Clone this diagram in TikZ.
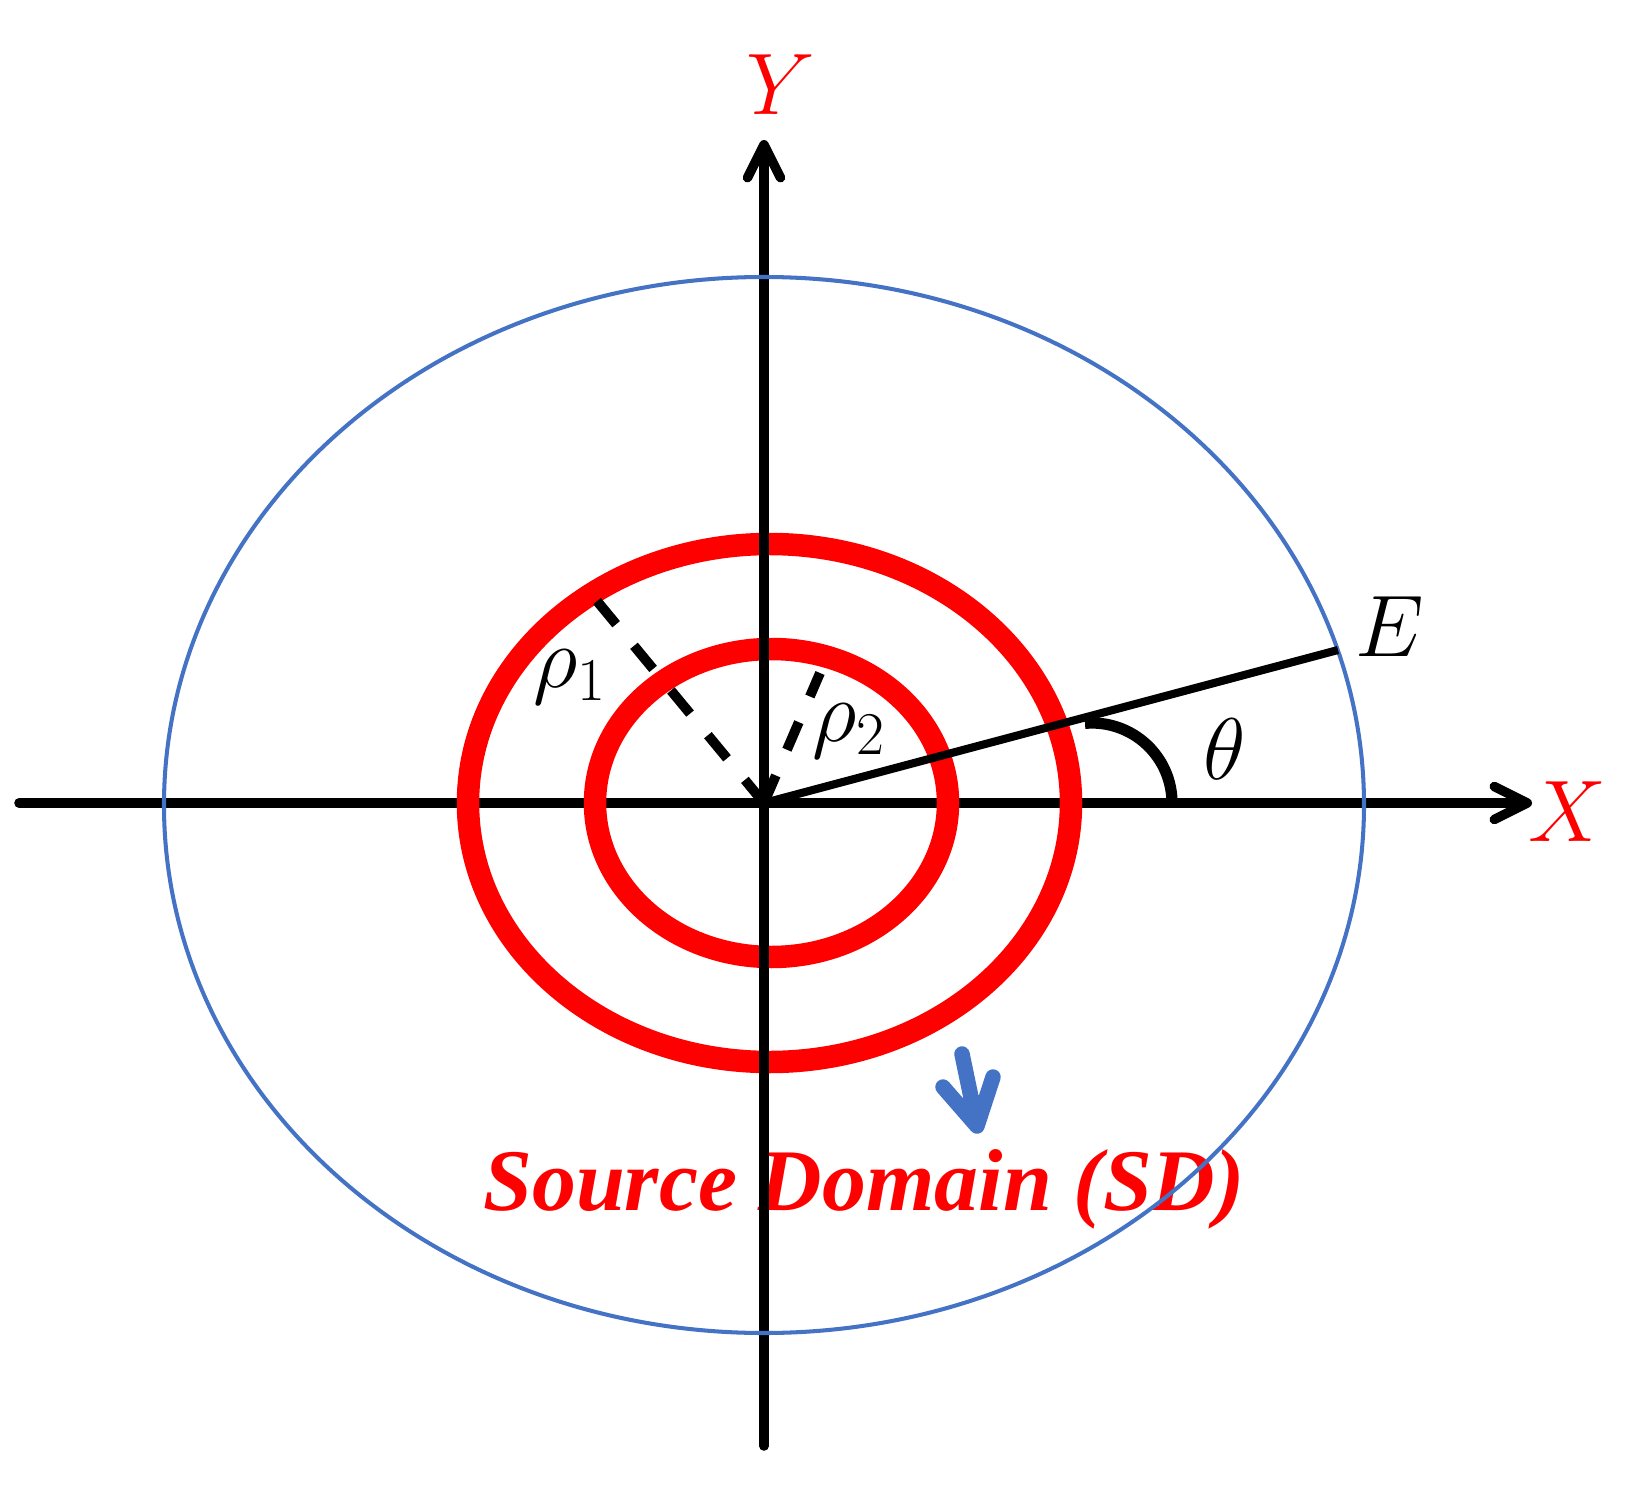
\documentclass[tikz,border=0pt]{standalone}
\usepackage{fontspec}
\newfontfamily\sdfont{Liberation Serif}
\usetikzlibrary{arrows.meta}
\definecolor{sdred}{HTML}{FF0000}
\definecolor{sdblue}{HTML}{4472C4}
\tikzset{
  axis/.style = {line width=2.7pt, line cap=round},
  axtip/.style = {-{Straight Barb[length=3.3mm,width=3.3mm,round]}},
  ring/.style = {draw=sdred, line width=6.4pt},
  sdomain/.style = {draw=sdblue, line width=1.15pt},
  ray/.style = {line width=2.3pt},
  radius line/.style = {line width=2.8pt, dash pattern=on 0.3cm off 0.28cm},
  lbl/.style = {font=\fontsize{26}{31}\selectfont, inner sep=0pt},
  sdtext/.style = {font=\sdfont\bfseries\itshape\fontsize{25}{30}\selectfont, text=sdred, inner sep=0pt, anchor=base}
}

\begin{document}
\begin{tikzpicture}
  \useasboundingbox (-7.64,-7.04) rectangle (8.74,8.03);

  \coordinate (O)  at ( 0,     0);
  \coordinate (xl) at (-7.45,  0);
  \coordinate (xr) at ( 7.68,  0);
  \coordinate (yb) at ( 0,    -6.43);
  \coordinate (yt) at ( 0,     6.63);
  \coordinate (E)  at ( 5.74,  1.53);
  \coordinate (r1) at (-1.72,  2.08);
  \coordinate (r2) at ( 0.56,  1.30);

  \node [sdtext] (sd) at (1.0, -4.07) {Source Domain (SD)};

  \draw [axis, axtip] (xl) -- (xr);
  \draw [ring] (0.075, 0) ellipse [x radius=1.765, y radius=1.54];
  \draw [ring] (0.055, 0) ellipse [x radius=3.015, y radius=2.59];
  \draw [axis, axtip] (yb) -- (yt);
  \draw [sdomain] (0, -0.02) ellipse [x radius=6.0, y radius=5.28];

  \draw [ray] (O) -- (E);
  \draw [radius line] (O) -- (r1);
  \draw [radius line] (O) -- (r2);
  \draw [line width=3.2pt] (3.28, 0) ++(95:0.8) arc [start angle=95, end angle=0, radius=0.8];

  % arrow towards the source domain
  \coordinate (a1) at (1.98, -2.51);
  \coordinate (a0) at (2.13, -3.23);
  \coordinate (a2) at (1.79, -2.84);
  \coordinate (a3) at (2.29, -2.74);
  \draw [draw=sdblue, line width=4.4pt, line cap=round, line join=round] (a1) -- (a0) (a2) -- (a0) -- (a3);

  \node [lbl, text=sdred] (X) at (8.03, -0.09) {$X$};
  \node [lbl, text=sdred] (Y) at (0.17, 7.18) {$Y$};
  \node [lbl] (El) at (6.26, 1.76) {$E$};
  \node [lbl] (th) at (4.61, 0.54) {$\theta$};
  \node [lbl] (p1) at (-1.94, 1.26) {$\rho_1$};
  \node [lbl] (p2) at (0.85, 0.72) {$\rho_2$};
\end{tikzpicture}
\end{document}
